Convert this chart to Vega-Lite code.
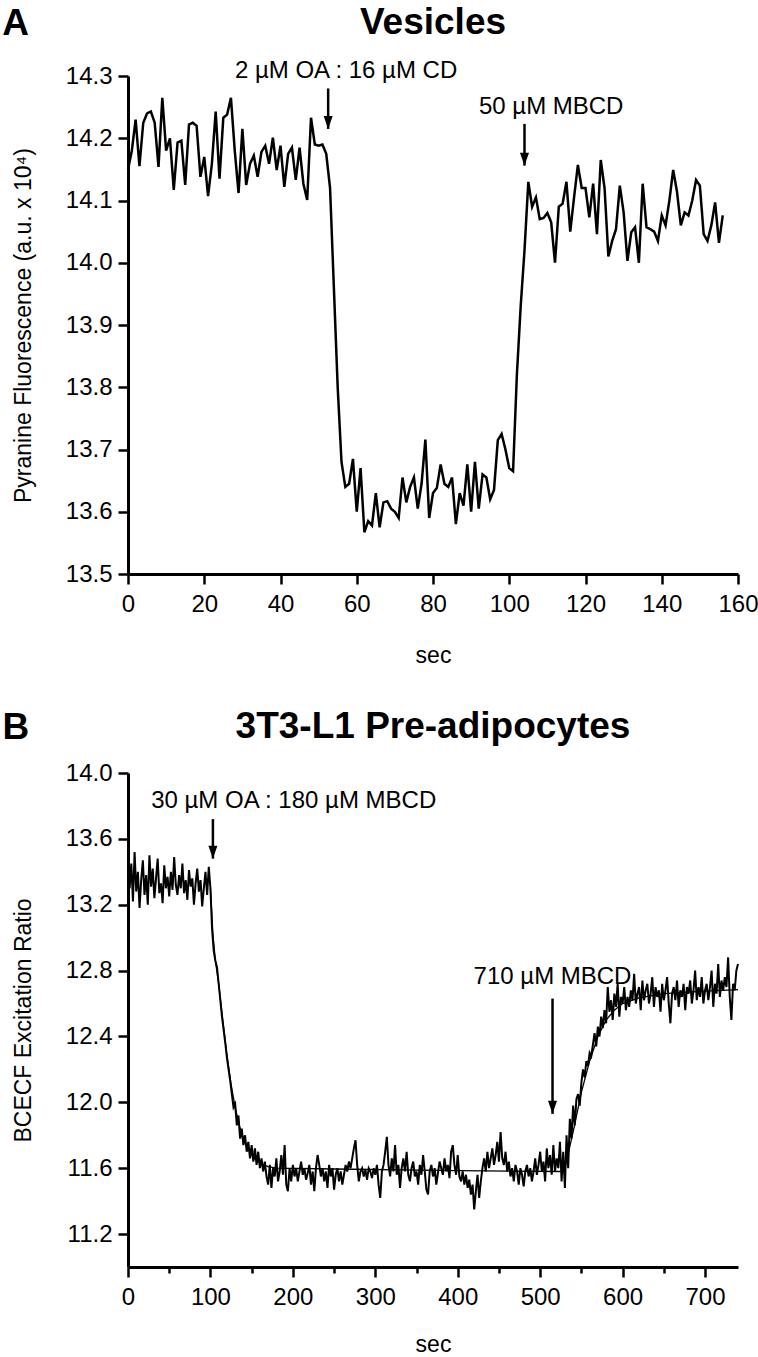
{
"$schema":"https://vega.github.io/schema/vega-lite/v6.json",
"background":"white",
"padding":{"left":2,"top":3,"right":8,"bottom":0},
"spacing":40,
"config":{
 "view":{"stroke":null},
 "font":"Liberation Sans",
 "axis":{"domainColor":"black","domainWidth":3,"tickColor":"black","tickWidth":2.5,"labelColor":"black","labelFont":"Liberation Sans","labelFontSize":24,"titleFont":"Liberation Sans","titleFontSize":23,"titleFontWeight":"normal","titleColor":"black","grid":false,"labelPadding":5,"labelOverlap":false,"labelFlush":false},
 "title":{"font":"Liberation Sans","fontSize":37,"fontWeight":"bold","color":"black","anchor":"middle"}
},
"datasets":{
 "a":[{"t":0,"v":14.15},{"t":1,"v":14.18},{"t":2,"v":14.23},{"t":3,"v":14.155},{"t":4,"v":14.225},{"t":5,"v":14.24},{"t":6,"v":14.243},{"t":7,"v":14.225},{"t":8,"v":14.154},{"t":9,"v":14.265},{"t":10,"v":14.18},{"t":11,"v":14.2},{"t":12,"v":14.117},{"t":13,"v":14.193},{"t":14,"v":14.196},{"t":15,"v":14.125},{"t":16,"v":14.222},{"t":17,"v":14.225},{"t":18,"v":14.22},{"t":19,"v":14.138},{"t":20,"v":14.17},{"t":21,"v":14.107},{"t":22,"v":14.159},{"t":23,"v":14.243},{"t":24,"v":14.135},{"t":25,"v":14.233},{"t":26,"v":14.238},{"t":27,"v":14.265},{"t":28,"v":14.18},{"t":29,"v":14.112},{"t":30,"v":14.215},{"t":31,"v":14.125},{"t":32,"v":14.159},{"t":33,"v":14.172},{"t":34,"v":14.138},{"t":35,"v":14.178},{"t":36,"v":14.188},{"t":37,"v":14.159},{"t":38,"v":14.201},{"t":39,"v":14.149},{"t":40,"v":14.188},{"t":41,"v":14.122},{"t":42,"v":14.175},{"t":43,"v":14.185},{"t":44,"v":14.133},{"t":45,"v":14.185},{"t":46,"v":14.127},{"t":47,"v":14.101},{"t":48,"v":14.233},{"t":49,"v":14.19},{"t":50,"v":14.188},{"t":51,"v":14.19},{"t":52,"v":14.175},{"t":53,"v":14.12},{"t":54,"v":13.96},{"t":55,"v":13.8},{"t":56,"v":13.68},{"t":57,"v":13.64},{"t":58,"v":13.645},{"t":59,"v":13.685},{"t":60,"v":13.6},{"t":61,"v":13.67},{"t":62,"v":13.567},{"t":63,"v":13.585},{"t":64,"v":13.578},{"t":65,"v":13.63},{"t":66,"v":13.575},{"t":67,"v":13.615},{"t":68,"v":13.617},{"t":69,"v":13.605},{"t":70,"v":13.6},{"t":71,"v":13.59},{"t":72,"v":13.655},{"t":73,"v":13.615},{"t":74,"v":13.64},{"t":75,"v":13.655},{"t":76,"v":13.605},{"t":77,"v":13.645},{"t":78,"v":13.716},{"t":79,"v":13.59},{"t":80,"v":13.63},{"t":81,"v":13.638},{"t":82,"v":13.676},{"t":83,"v":13.645},{"t":84,"v":13.64},{"t":85,"v":13.655},{"t":86,"v":13.58},{"t":87,"v":13.63},{"t":88,"v":13.61},{"t":89,"v":13.676},{"t":90,"v":13.6},{"t":91,"v":13.68},{"t":92,"v":13.605},{"t":93,"v":13.66},{"t":94,"v":13.655},{"t":95,"v":13.62},{"t":96,"v":13.635},{"t":97,"v":13.715},{"t":98,"v":13.725},{"t":99,"v":13.7},{"t":100,"v":13.67},{"t":101,"v":13.665},{"t":102,"v":13.82},{"t":103,"v":13.93},{"t":104,"v":14.02},{"t":105,"v":14.13},{"t":106,"v":14.09},{"t":107,"v":14.105},{"t":108,"v":14.07},{"t":109,"v":14.072},{"t":110,"v":14.08},{"t":111,"v":14.065},{"t":112,"v":14.0},{"t":113,"v":14.09},{"t":114,"v":14.095},{"t":115,"v":14.13},{"t":116,"v":14.05},{"t":117,"v":14.105},{"t":118,"v":14.157},{"t":119,"v":14.12},{"t":120,"v":14.12},{"t":121,"v":14.073},{"t":122,"v":14.127},{"t":123,"v":14.046},{"t":124,"v":14.165},{"t":125,"v":14.12},{"t":126,"v":14.01},{"t":127,"v":14.035},{"t":128,"v":14.054},{"t":129,"v":14.124},{"t":130,"v":14.081},{"t":131,"v":14.003},{"t":132,"v":14.049},{"t":133,"v":14.057},{"t":134,"v":14.0},{"t":135,"v":14.127},{"t":136,"v":14.057},{"t":137,"v":14.054},{"t":138,"v":14.05},{"t":139,"v":14.035},{"t":140,"v":14.076},{"t":141,"v":14.06},{"t":142,"v":14.1},{"t":143,"v":14.149},{"t":144,"v":14.114},{"t":145,"v":14.06},{"t":146,"v":14.081},{"t":147,"v":14.076},{"t":148,"v":14.1},{"t":149,"v":14.133},{"t":150,"v":14.124},{"t":151,"v":14.046},{"t":152,"v":14.035},{"t":153,"v":14.06},{"t":154,"v":14.097},{"t":155,"v":14.032},{"t":156,"v":14.076}],
 "arrA":[{"x":52.5,"y1":14.28,"y2":14.215},{"x":104,"y1":14.223,"y2":14.156}],
 "annA":[{"x":57.2,"y":14.308,"label":"2 µM OA : 16 µM CD"},{"x":111,"y":14.25,"label":"50 µM MBCD"}],
 "letA":[{"x":-29.5,"y":14.384,"label":"A"}],
 "b":[{"t":0,"v":13.38},{"t":2,"v":13.3},{"t":4,"v":13.45},{"t":6,"v":13.22},{"t":8,"v":13.52},{"t":10,"v":13.28},{"t":12,"v":13.4},{"t":14,"v":13.18},{"t":16,"v":13.35},{"t":18,"v":13.47},{"t":20,"v":13.26},{"t":22,"v":13.38},{"t":24,"v":13.2},{"t":26,"v":13.5},{"t":28,"v":13.31},{"t":30,"v":13.42},{"t":32,"v":13.24},{"t":34,"v":13.36},{"t":36,"v":13.48},{"t":38,"v":13.27},{"t":40,"v":13.33},{"t":42,"v":13.21},{"t":44,"v":13.44},{"t":46,"v":13.3},{"t":48,"v":13.37},{"t":50,"v":13.25},{"t":52,"v":13.4},{"t":54,"v":13.29},{"t":56,"v":13.49},{"t":58,"v":13.32},{"t":60,"v":13.26},{"t":62,"v":13.38},{"t":64,"v":13.3},{"t":66,"v":13.45},{"t":68,"v":13.27},{"t":70,"v":13.35},{"t":72,"v":13.23},{"t":74,"v":13.41},{"t":76,"v":13.31},{"t":78,"v":13.36},{"t":80,"v":13.2},{"t":82,"v":13.33},{"t":84,"v":13.42},{"t":86,"v":13.28},{"t":88,"v":13.35},{"t":90,"v":13.19},{"t":92,"v":13.3},{"t":94,"v":13.4},{"t":96,"v":13.26},{"t":98,"v":13.43},{"t":100,"v":13.3},{"t":102,"v":13.05},{"t":104,"v":12.92},{"t":106,"v":12.86},{"t":108,"v":12.82},{"t":110,"v":12.72},{"t":112,"v":12.62},{"t":114,"v":12.52},{"t":116,"v":12.44},{"t":118,"v":12.36},{"t":120,"v":12.27},{"t":122,"v":12.2},{"t":124,"v":12.13},{"t":126,"v":12.05},{"t":128,"v":11.97},{"t":130,"v":11.99},{"t":132,"v":11.86},{"t":134,"v":11.92},{"t":136,"v":11.78},{"t":138,"v":11.84},{"t":140,"v":11.74},{"t":142,"v":11.8},{"t":144,"v":11.7},{"t":146,"v":11.76},{"t":148,"v":11.66},{"t":150,"v":11.74},{"t":152,"v":11.64},{"t":154,"v":11.72},{"t":156,"v":11.62},{"t":158,"v":11.7},{"t":160,"v":11.6},{"t":162,"v":11.66},{"t":164,"v":11.58},{"t":166,"v":11.64},{"t":168,"v":11.55},{"t":170,"v":11.5},{"t":172,"v":11.62},{"t":174,"v":11.48},{"t":176,"v":11.6},{"t":178,"v":11.55},{"t":180,"v":11.66},{"t":182,"v":11.52},{"t":184,"v":11.58},{"t":186,"v":11.68},{"t":188,"v":11.56},{"t":190,"v":11.74},{"t":192,"v":11.5},{"t":194,"v":11.46},{"t":196,"v":11.6},{"t":198,"v":11.52},{"t":200,"v":11.62},{"t":202,"v":11.55},{"t":204,"v":11.6},{"t":206,"v":11.52},{"t":208,"v":11.58},{"t":210,"v":11.64},{"t":212,"v":11.56},{"t":214,"v":11.6},{"t":216,"v":11.53},{"t":218,"v":11.57},{"t":220,"v":11.62},{"t":222,"v":11.5},{"t":224,"v":11.58},{"t":226,"v":11.46},{"t":228,"v":11.6},{"t":230,"v":11.68},{"t":232,"v":11.62},{"t":234,"v":11.55},{"t":236,"v":11.6},{"t":238,"v":11.52},{"t":240,"v":11.58},{"t":242,"v":11.48},{"t":244,"v":11.62},{"t":246,"v":11.55},{"t":248,"v":11.6},{"t":250,"v":11.47},{"t":252,"v":11.56},{"t":254,"v":11.6},{"t":256,"v":11.52},{"t":258,"v":11.58},{"t":260,"v":11.5},{"t":262,"v":11.56},{"t":264,"v":11.62},{"t":266,"v":11.58},{"t":268,"v":11.64},{"t":270,"v":11.6},{"t":272,"v":11.66},{"t":274,"v":11.72},{"t":276,"v":11.77},{"t":278,"v":11.62},{"t":280,"v":11.52},{"t":282,"v":11.58},{"t":284,"v":11.6},{"t":286,"v":11.55},{"t":288,"v":11.59},{"t":290,"v":11.53},{"t":292,"v":11.6},{"t":294,"v":11.58},{"t":296,"v":11.54},{"t":298,"v":11.6},{"t":300,"v":11.56},{"t":302,"v":11.62},{"t":304,"v":11.5},{"t":306,"v":11.42},{"t":308,"v":11.58},{"t":310,"v":11.62},{"t":312,"v":11.7},{"t":314,"v":11.79},{"t":316,"v":11.62},{"t":318,"v":11.55},{"t":320,"v":11.66},{"t":322,"v":11.58},{"t":324,"v":11.74},{"t":326,"v":11.56},{"t":328,"v":11.62},{"t":330,"v":11.48},{"t":332,"v":11.6},{"t":334,"v":11.66},{"t":336,"v":11.58},{"t":338,"v":11.7},{"t":340,"v":11.56},{"t":342,"v":11.52},{"t":344,"v":11.6},{"t":346,"v":11.64},{"t":348,"v":11.55},{"t":350,"v":11.58},{"t":352,"v":11.5},{"t":354,"v":11.62},{"t":356,"v":11.56},{"t":358,"v":11.68},{"t":360,"v":11.58},{"t":362,"v":11.47},{"t":364,"v":11.44},{"t":366,"v":11.58},{"t":368,"v":11.62},{"t":370,"v":11.55},{"t":372,"v":11.6},{"t":374,"v":11.5},{"t":376,"v":11.57},{"t":378,"v":11.64},{"t":380,"v":11.6},{"t":382,"v":11.56},{"t":384,"v":11.66},{"t":386,"v":11.58},{"t":388,"v":11.62},{"t":390,"v":11.54},{"t":392,"v":11.7},{"t":394,"v":11.74},{"t":396,"v":11.62},{"t":398,"v":11.56},{"t":400,"v":11.68},{"t":402,"v":11.55},{"t":404,"v":11.52},{"t":406,"v":11.58},{"t":408,"v":11.5},{"t":410,"v":11.56},{"t":412,"v":11.48},{"t":414,"v":11.53},{"t":416,"v":11.44},{"t":418,"v":11.5},{"t":420,"v":11.35},{"t":422,"v":11.46},{"t":424,"v":11.56},{"t":426,"v":11.42},{"t":428,"v":11.52},{"t":430,"v":11.6},{"t":432,"v":11.66},{"t":434,"v":11.58},{"t":436,"v":11.7},{"t":438,"v":11.6},{"t":440,"v":11.66},{"t":442,"v":11.72},{"t":444,"v":11.62},{"t":446,"v":11.68},{"t":448,"v":11.76},{"t":450,"v":11.64},{"t":452,"v":11.82},{"t":454,"v":11.66},{"t":456,"v":11.62},{"t":458,"v":11.7},{"t":460,"v":11.58},{"t":462,"v":11.64},{"t":464,"v":11.55},{"t":466,"v":11.6},{"t":468,"v":11.52},{"t":470,"v":11.62},{"t":472,"v":11.58},{"t":474,"v":11.5},{"t":476,"v":11.6},{"t":478,"v":11.56},{"t":480,"v":11.49},{"t":482,"v":11.58},{"t":484,"v":11.62},{"t":486,"v":11.55},{"t":488,"v":11.6},{"t":490,"v":11.52},{"t":492,"v":11.58},{"t":494,"v":11.66},{"t":496,"v":11.56},{"t":498,"v":11.62},{"t":500,"v":11.7},{"t":502,"v":11.58},{"t":504,"v":11.64},{"t":506,"v":11.52},{"t":508,"v":11.72},{"t":510,"v":11.6},{"t":512,"v":11.68},{"t":514,"v":11.56},{"t":516,"v":11.74},{"t":518,"v":11.58},{"t":520,"v":11.66},{"t":522,"v":11.6},{"t":524,"v":11.76},{"t":526,"v":11.52},{"t":528,"v":11.7},{"t":530,"v":11.48},{"t":532,"v":11.8},{"t":534,"v":11.6},{"t":536,"v":11.9},{"t":538,"v":11.78},{"t":540,"v":11.98},{"t":542,"v":11.86},{"t":544,"v":12.02},{"t":546,"v":12.05},{"t":548,"v":11.98},{"t":550,"v":12.12},{"t":552,"v":12.2},{"t":554,"v":12.15},{"t":556,"v":12.25},{"t":558,"v":12.22},{"t":560,"v":12.3},{"t":562,"v":12.28},{"t":564,"v":12.35},{"t":566,"v":12.42},{"t":568,"v":12.34},{"t":570,"v":12.46},{"t":572,"v":12.4},{"t":574,"v":12.52},{"t":576,"v":12.45},{"t":578,"v":12.56},{"t":580,"v":12.48},{"t":582,"v":12.7},{"t":584,"v":12.55},{"t":586,"v":12.62},{"t":588,"v":12.5},{"t":590,"v":12.66},{"t":592,"v":12.58},{"t":594,"v":12.72},{"t":596,"v":12.52},{"t":598,"v":12.64},{"t":600,"v":12.6},{"t":602,"v":12.7},{"t":604,"v":12.56},{"t":606,"v":12.64},{"t":608,"v":12.58},{"t":610,"v":12.68},{"t":612,"v":12.62},{"t":614,"v":12.78},{"t":616,"v":12.6},{"t":618,"v":12.66},{"t":620,"v":12.7},{"t":622,"v":12.56},{"t":624,"v":12.74},{"t":626,"v":12.62},{"t":628,"v":12.68},{"t":630,"v":12.72},{"t":632,"v":12.6},{"t":634,"v":12.66},{"t":636,"v":12.76},{"t":638,"v":12.58},{"t":640,"v":12.7},{"t":642,"v":12.64},{"t":644,"v":12.68},{"t":646,"v":12.55},{"t":648,"v":12.72},{"t":650,"v":12.62},{"t":652,"v":12.68},{"t":654,"v":12.76},{"t":656,"v":12.6},{"t":658,"v":12.48},{"t":660,"v":12.66},{"t":662,"v":12.7},{"t":664,"v":12.62},{"t":666,"v":12.74},{"t":668,"v":12.58},{"t":670,"v":12.68},{"t":672,"v":12.64},{"t":674,"v":12.72},{"t":676,"v":12.56},{"t":678,"v":12.7},{"t":680,"v":12.66},{"t":682,"v":12.74},{"t":684,"v":12.6},{"t":686,"v":12.68},{"t":688,"v":12.8},{"t":690,"v":12.62},{"t":692,"v":12.7},{"t":694,"v":12.64},{"t":696,"v":12.76},{"t":698,"v":12.6},{"t":700,"v":12.68},{"t":702,"v":12.72},{"t":704,"v":12.62},{"t":706,"v":12.7},{"t":708,"v":12.8},{"t":710,"v":12.58},{"t":712,"v":12.72},{"t":714,"v":12.66},{"t":716,"v":12.84},{"t":718,"v":12.64},{"t":720,"v":12.74},{"t":722,"v":12.68},{"t":724,"v":12.76},{"t":726,"v":12.7},{"t":728,"v":12.88},{"t":730,"v":12.64},{"t":732,"v":12.5},{"t":734,"v":12.72},{"t":736,"v":12.68},{"t":738,"v":12.8},{"t":740,"v":12.84}],
 "fitB":[{"seg":1,"t":100,"v":13.3},{"seg":1,"t":103,"v":13.02},{"seg":1,"t":106,"v":12.86},{"seg":1,"t":110,"v":12.72},{"seg":1,"t":115,"v":12.5},{"seg":1,"t":120,"v":12.29},{"seg":1,"t":125,"v":12.11},{"seg":1,"t":130,"v":11.97},{"seg":1,"t":135,"v":11.86},{"seg":1,"t":140,"v":11.78},{"seg":1,"t":145,"v":11.72},{"seg":1,"t":150,"v":11.68},{"seg":1,"t":155,"v":11.65},{"seg":1,"t":160,"v":11.63},{"seg":1,"t":170,"v":11.61},{"seg":1,"t":180,"v":11.6},{"seg":1,"t":250,"v":11.595},{"seg":1,"t":400,"v":11.585},{"seg":1,"t":525,"v":11.58},{"seg":2,"t":530,"v":11.6},{"seg":2,"t":540,"v":11.82},{"seg":2,"t":550,"v":12.06},{"seg":2,"t":560,"v":12.25},{"seg":2,"t":570,"v":12.4},{"seg":2,"t":580,"v":12.5},{"seg":2,"t":590,"v":12.56},{"seg":2,"t":600,"v":12.6},{"seg":2,"t":620,"v":12.635},{"seg":2,"t":650,"v":12.66},{"seg":2,"t":700,"v":12.675},{"seg":2,"t":740,"v":12.685}],
 "arrB":[{"x":103,"y1":13.72,"y2":13.48},{"x":515,"y1":12.63,"y2":11.93}],
 "annB":[{"x":201,"y":13.83,"label":"30 µM OA : 180 µM MBCD"},{"x":515,"y":12.76,"label":"710 µM MBCD"}],
 "letB":[{"x":-136,"y":14.275,"label":"B"}]
},
"vconcat":[
 {
  "width":610,"height":498,
  "title":{"text":"Vesicles","offset":-37},
  "layer":[
   {"data":{"name":"a"},"mark":{"type":"line","color":"black","strokeWidth":2.5},
    "encoding":{
     "x":{"field":"t","type":"quantitative","scale":{"domain":[0,160],"nice":false},
      "axis":{"title":"sec","values":[0,10,20,30,40,50,60,70,80,90,100,110,120,130,140,150,160],"labelExpr":"datum.value % 20 === 0 ? datum.label : ''","tickSize":{"condition":{"test":"datum.value % 20 === 0","value":10},"value":6},"labelPadding":8,"titlePadding":28}},
     "y":{"field":"v","type":"quantitative","scale":{"domain":[13.5,14.3],"nice":false,"zero":false},
      "axis":{"title":"Pyranine Fluorescence (a.u. x 10⁴)","values":[13.5,13.55,13.6,13.65,13.7,13.75,13.8,13.85,13.9,13.95,14,14.05,14.1,14.15,14.2,14.25,14.3],"labelExpr":"abs(datum.value*10 - round(datum.value*10)) < 0.01 ? format(datum.value, '.1f') : ''","tickSize":{"condition":{"test":"abs(datum.value*10 - round(datum.value*10)) < 0.01","value":10},"value":6},"labelPadding":6,"titlePadding":30}}
    }},
   {"data":{"name":"arrA"},"mark":{"type":"rule","color":"black","strokeWidth":2.5},
    "encoding":{"x":{"field":"x","type":"quantitative","scale":{"domain":[0,160],"nice":false}},"y":{"field":"y1","type":"quantitative","scale":{"domain":[13.5,14.3],"nice":false,"zero":false}},"y2":{"field":"y2"}}},
   {"data":{"name":"arrA"},"mark":{"type":"point","shape":"M-0.9,-2.6L0.9,-2.6L0,0Z","filled":true,"color":"black","size":100,"opacity":1},
    "encoding":{"x":{"field":"x","type":"quantitative","scale":{"domain":[0,160],"nice":false}},"y":{"field":"y2","type":"quantitative","scale":{"domain":[13.5,14.3],"nice":false,"zero":false}}}},
   {"data":{"name":"annA"},"mark":{"type":"text","font":"Liberation Sans","fontSize":24,"color":"black","align":"center","baseline":"middle"},
    "encoding":{"x":{"field":"x","type":"quantitative","scale":{"domain":[0,160],"nice":false}},"y":{"field":"y","type":"quantitative","scale":{"domain":[13.5,14.3],"nice":false,"zero":false}},"text":{"field":"label"}}},
   {"data":{"name":"letA"},"mark":{"type":"text","font":"Liberation Sans","fontSize":37,"fontWeight":"bold","color":"black","align":"center","baseline":"middle"},
    "encoding":{"x":{"field":"x","type":"quantitative","scale":{"domain":[0,160],"nice":false}},"y":{"field":"y","type":"quantitative","scale":{"domain":[13.5,14.3],"nice":false,"zero":false}},"text":{"field":"label"}}}
  ]
 },
 {
  "width":610,"height":494,
  "title":{"text":"3T3-L1 Pre-adipocytes","offset":-37},
  "layer":[
   {"data":{"name":"b"},"mark":{"type":"line","color":"black","strokeWidth":2},
    "encoding":{
     "x":{"field":"t","type":"quantitative","scale":{"domain":[0,740],"nice":false},
      "axis":{"title":"sec","values":[0,50,100,150,200,250,300,350,400,450,500,550,600,650,700],"labelExpr":"datum.value % 100 === 0 ? datum.label : ''","tickSize":{"condition":{"test":"datum.value % 100 === 0","value":10},"value":6},"labelPadding":8,"titlePadding":24}},
     "y":{"field":"v","type":"quantitative","scale":{"domain":[11,14],"nice":false,"zero":false},
      "axis":{"title":"BCECF Excitation Ratio","values":[11.2,11.4,11.6,11.8,12,12.2,12.4,12.6,12.8,13,13.2,13.4,13.6,13.8,14],"labelExpr":"indexof([11.2,11.6,12,12.4,12.8,13.2,13.6,14], datum.value) >= 0 ? format(datum.value, '.1f') : ''","tickSize":{"condition":{"test":"indexof([11.2,11.6,12,12.4,12.8,13.2,13.6,14], datum.value) >= 0","value":10},"value":6},"labelPadding":6,"titlePadding":30}}
    }},
   {"data":{"name":"fitB"},"mark":{"type":"line","color":"black","strokeWidth":1.3},
    "encoding":{"x":{"field":"t","type":"quantitative","scale":{"domain":[0,740],"nice":false}},"y":{"field":"v","type":"quantitative","scale":{"domain":[11,14],"nice":false,"zero":false}},"detail":{"field":"seg"}}},
   {"data":{"name":"arrB"},"mark":{"type":"rule","color":"black","strokeWidth":2.5},
    "encoding":{"x":{"field":"x","type":"quantitative","scale":{"domain":[0,740],"nice":false}},"y":{"field":"y1","type":"quantitative","scale":{"domain":[11,14],"nice":false,"zero":false}},"y2":{"field":"y2"}}},
   {"data":{"name":"arrB"},"mark":{"type":"point","shape":"M-0.9,-2.6L0.9,-2.6L0,0Z","filled":true,"color":"black","size":100,"opacity":1},
    "encoding":{"x":{"field":"x","type":"quantitative","scale":{"domain":[0,740],"nice":false}},"y":{"field":"y2","type":"quantitative","scale":{"domain":[11,14],"nice":false,"zero":false}}}},
   {"data":{"name":"annB"},"mark":{"type":"text","font":"Liberation Sans","fontSize":24,"color":"black","align":"center","baseline":"middle"},
    "encoding":{"x":{"field":"x","type":"quantitative","scale":{"domain":[0,740],"nice":false}},"y":{"field":"y","type":"quantitative","scale":{"domain":[11,14],"nice":false,"zero":false}},"text":{"field":"label"}}},
   {"data":{"name":"letB"},"mark":{"type":"text","font":"Liberation Sans","fontSize":37,"fontWeight":"bold","color":"black","align":"center","baseline":"middle"},
    "encoding":{"x":{"field":"x","type":"quantitative","scale":{"domain":[0,740],"nice":false}},"y":{"field":"y","type":"quantitative","scale":{"domain":[11,14],"nice":false,"zero":false}},"text":{"field":"label"}}}
  ]
 }
]
}
